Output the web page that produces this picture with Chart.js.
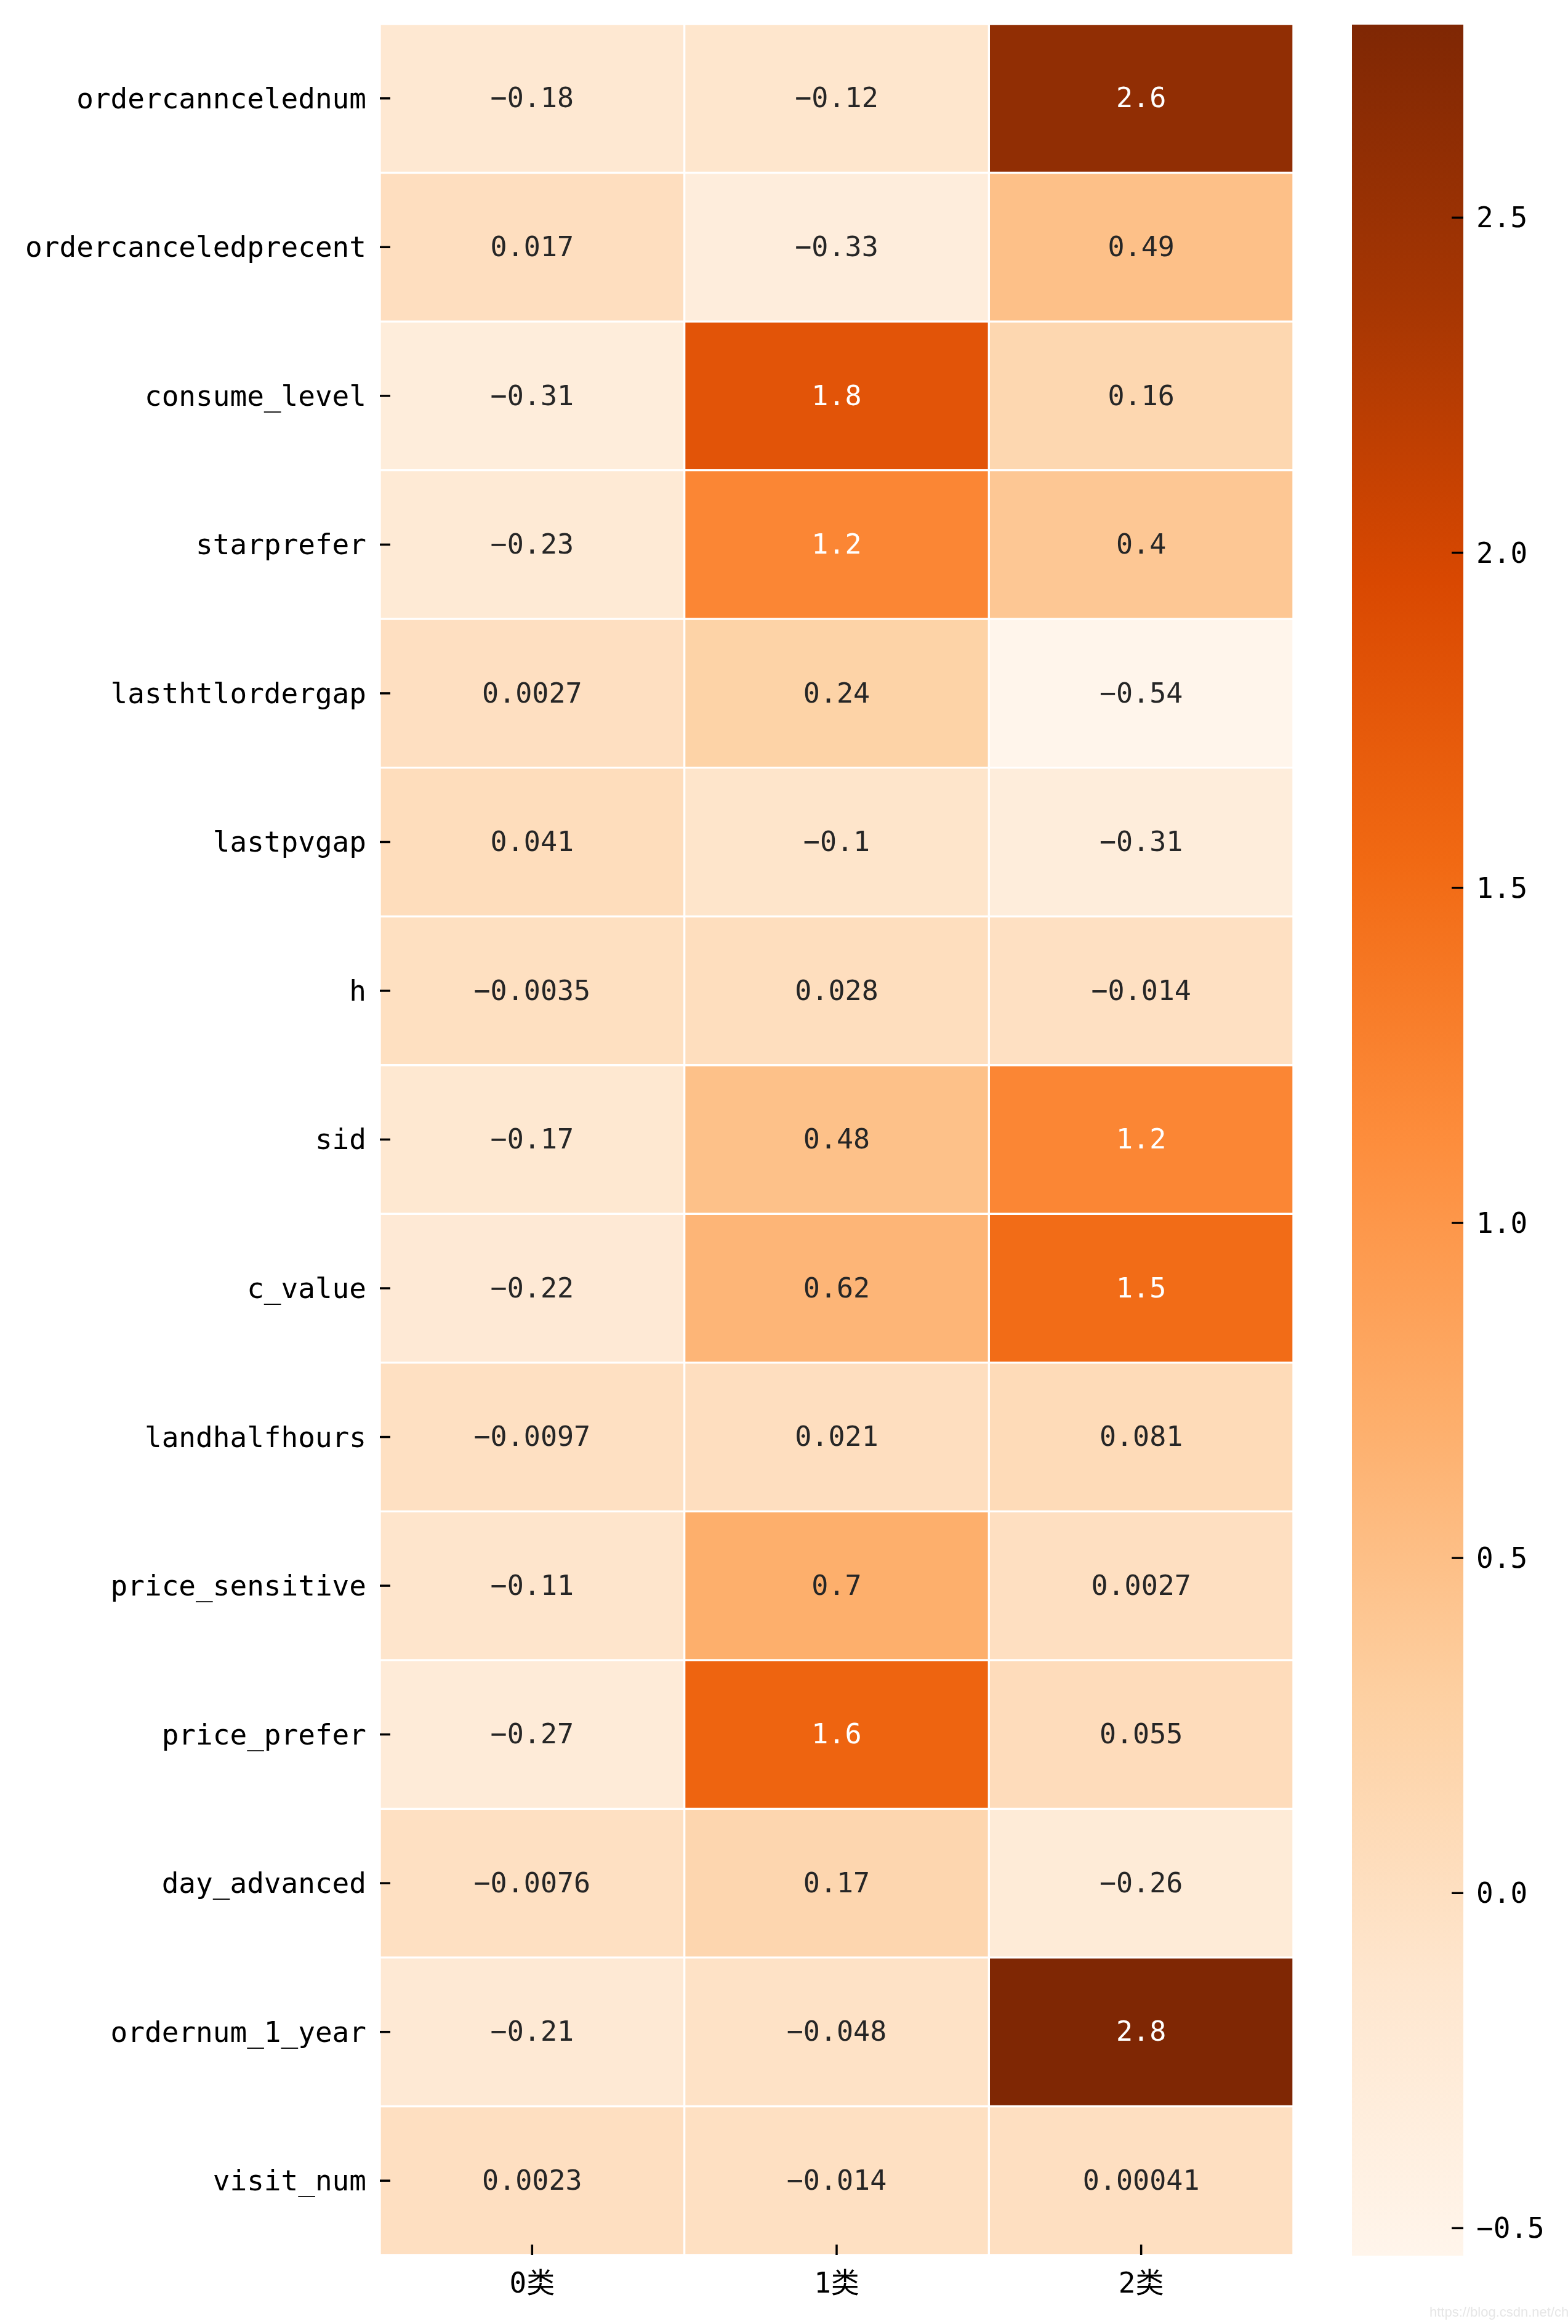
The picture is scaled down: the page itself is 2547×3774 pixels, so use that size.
<!DOCTYPE html>
<html>
<head>
<meta charset="utf-8">
<script src="https://cdn.jsdelivr.net/npm/chart.js@4/dist/chart.umd.min.js"></script>
<style>
  body { margin: 0; background: #fff; overflow: hidden; }
  #wrap { position: relative; width: 2547px; height: 3774px; }
  canvas { position: absolute; left: 0; top: 0; }
  #mark { position: absolute; left: 2322px; top: 3742px; font: 22px "Liberation Sans", Arial, sans-serif; color: #e6e6e6; }
</style>
</head>
<body>
<div id="wrap">
  <canvas id="heat" width="2547" height="3774"></canvas>
  <canvas id="cbar" width="2547" height="3774"></canvas>
  <div id="mark">https://blog.csdn.net/changreal</div>
</div>
<script>
var features = ['ordercanncelednum', 'ordercanceledprecent', 'consume_level', 'starprefer',
  'lasthtlordergap', 'lastpvgap', 'h', 'sid', 'c_value', 'landhalfhours',
  'price_sensitive', 'price_prefer', 'day_advanced', 'ordernum_1_year', 'visit_num'];
var classes = ['0类', '1类', '2类'];

// one array per cluster, same order as features
var class0 = [-0.18, 0.017, -0.31, -0.23, 0.0027, 0.041, -0.0035, -0.17, -0.22, -0.0097, -0.11, -0.27, -0.0076, -0.21, 0.0023];
var class1 = [-0.12, -0.33, 1.8, 1.2, 0.24, -0.1, 0.028, 0.48, 0.62, 0.021, 0.7, 1.6, 0.17, -0.048, -0.014];
var class2 = [2.6, 0.49, 0.16, 0.4, -0.54, -0.31, -0.014, 1.2, 1.5, 0.081, 0.0027, 0.055, -0.26, 2.8, 0.00041];
var columns = [class0, class1, class2];

var vmin = -0.541;
var vmax = 2.788;
var cbarTicks = [-0.5, 0, 0.5, 1, 1.5, 2, 2.5];

var oranges = ['#fff5eb', '#fee6ce', '#fdd0a2', '#fdae6b', '#fd8d3c', '#f16913', '#d94801', '#a63603', '#7f2704'];
var FONT = '"DejaVu Sans Mono", "Liberation Mono", "Noto Sans CJK SC", monospace';

function hexToRgb(h) {
  return [parseInt(h.substr(1, 2), 16), parseInt(h.substr(3, 2), 16), parseInt(h.substr(5, 2), 16)];
}

function cmapRgb(v) {
  var t = (v - vmin) / (vmax - vmin);
  t = Math.max(0, Math.min(1, t));
  var pos = t * (oranges.length - 1);
  var i = Math.min(Math.floor(pos), oranges.length - 2);
  var f = pos - i;
  var a = hexToRgb(oranges[i]), b = hexToRgb(oranges[i + 1]);
  return [0, 1, 2].map(function(k) { return Math.round(a[k] + (b[k] - a[k]) * f); });
}

function cmap(v) {
  var c = cmapRgb(v);
  return 'rgb(' + c[0] + ',' + c[1] + ',' + c[2] + ')';
}

function textColor(v) {
  var c = cmapRgb(v).map(function(x) {
    x = x / 255;
    return x <= 0.03928 ? x / 12.92 : Math.pow((x + 0.055) / 1.055, 2.4);
  });
  var lum = 0.2126 * c[0] + 0.7152 * c[1] + 0.0722 * c[2];
  return lum > 0.408 ? '#262626' : '#ffffff';
}

function fmt(v) {
  return String(v).replace('-', '\u2212');
}

function noPad(s) {
  s.paddingTop = 0;
  s.paddingBottom = 0;
  s.paddingLeft = 0;
  s.paddingRight = 0;
}

// ticks drawn pointing into the plot, like the original
var inwardTicks = {
  id: 'inwardTicks',
  afterDraw: function(chart, args, opts) {
    var ctx = chart.ctx;
    var area = chart.chartArea;
    ctx.save();
    ctx.strokeStyle = '#000';
    ctx.lineWidth = 3.5;
    (opts.axes || []).forEach(function(id) {
      var s = chart.scales[id];
      s.ticks.forEach(function(t, i) {
        var p = s.getPixelForTick(i);
        ctx.beginPath();
        if (s.axis === 'x') {
          ctx.moveTo(p, area.bottom);
          ctx.lineTo(p, area.bottom - 17);
        } else if (s.position === 'left') {
          ctx.moveTo(area.left, p);
          ctx.lineTo(area.left + 17, p);
        } else {
          ctx.moveTo(area.right, p);
          ctx.lineTo(area.right - 19, p);
        }
        ctx.stroke();
      });
    });
    ctx.restore();
  }
};

var cellLabels = {
  id: 'cellLabels',
  afterDatasetsDraw: function(chart) {
    var ctx = chart.ctx;
    var xs = chart.scales.x, ys = chart.scales.y;
    ctx.save();
    ctx.font = '45px ' + FONT;
    ctx.textAlign = 'center';
    ctx.textBaseline = 'middle';
    columns.forEach(function(col, j) {
      col.forEach(function(v, i) {
        ctx.fillStyle = textColor(v);
        ctx.fillText(fmt(v), xs.getPixelForValue(j + 0.5), ys.getPixelForValue(i) + 3);
      });
    });
    ctx.restore();
  }
};

var datasets = columns.map(function(col, j) {
  return {
    data: col.map(function(v, i) { return { x: [j, j + 1], y: features[i] }; }),
    backgroundColor: col.map(cmap),
    borderColor: '#ffffff',
    borderWidth: 2,
    borderSkipped: false,
    barPercentage: 1,
    categoryPercentage: 1,
    grouped: false
  };
});

new Chart(document.getElementById('heat'), {
  type: 'bar',
  data: { labels: features, datasets: datasets },
  plugins: [cellLabels, inwardTicks],
  options: {
    indexAxis: 'y',
    responsive: false,
    animation: false,
    devicePixelRatio: 1,
    layout: { padding: { top: 39, right: 446, left: 0, bottom: 0 } },
    plugins: { legend: { display: false }, tooltip: { enabled: false }, inwardTicks: { axes: ['x', 'y'] } },
    scales: {
      x: {
        type: 'linear',
        min: 0,
        max: 3,
        grid: { display: false, drawTicks: false },
        border: { display: false },
        afterBuildTicks: function(s) {
          s.ticks = classes.map(function(c, i) { return { value: i + 0.5 }; });
        },
        afterFit: function(s) { s.height = 112; noPad(s); },
        ticks: {
          autoSkip: false,
          maxRotation: 0,
          padding: 21,
          color: '#000',
          font: { size: 46, family: FONT },
          callback: function(v, i) { return classes[i]; }
        }
      },
      y: {
        type: 'category',
        grid: { display: false, drawTicks: false },
        border: { display: false },
        afterFit: function(s) { s.width = 617; noPad(s); },
        ticks: {
          padding: 22,
          labelOffset: 4,
          color: '#000',
          font: { size: 46, family: FONT }
        }
      }
    }
  }
});

new Chart(document.getElementById('cbar'), {
  type: 'bar',
  data: {
    labels: ['cbar'],
    datasets: [{
      data: [[vmin, vmax]],
      backgroundColor: function(c) {
        var area = c.chart.chartArea;
        if (!area) return oranges[0];
        var g = c.chart.ctx.createLinearGradient(0, area.bottom, 0, area.top);
        oranges.forEach(function(col, i) { g.addColorStop(i / (oranges.length - 1), col); });
        return g;
      },
      borderWidth: 0,
      barPercentage: 1,
      categoryPercentage: 1
    }]
  },
  plugins: [inwardTicks],
  options: {
    responsive: false,
    animation: false,
    devicePixelRatio: 1,
    layout: { padding: { top: 40, left: 2196, right: 0, bottom: 111 } },
    plugins: { legend: { display: false }, tooltip: { enabled: false }, inwardTicks: { axes: ['y'] } },
    scales: {
      x: { display: false },
      y: {
        position: 'right',
        min: vmin,
        max: vmax,
        grid: { display: false, drawTicks: false },
        border: { display: false },
        afterBuildTicks: function(s) {
          s.ticks = cbarTicks.map(function(v) { return { value: v }; });
        },
        afterFit: function(s) { s.width = 170; noPad(s); },
        ticks: {
          padding: 21,
          labelOffset: 4,
          color: '#000',
          font: { size: 46, family: FONT },
          callback: function(v) { return v.toFixed(1).replace('-', '\u2212'); }
        }
      }
    }
  }
});
</script>
</body>
</html>
